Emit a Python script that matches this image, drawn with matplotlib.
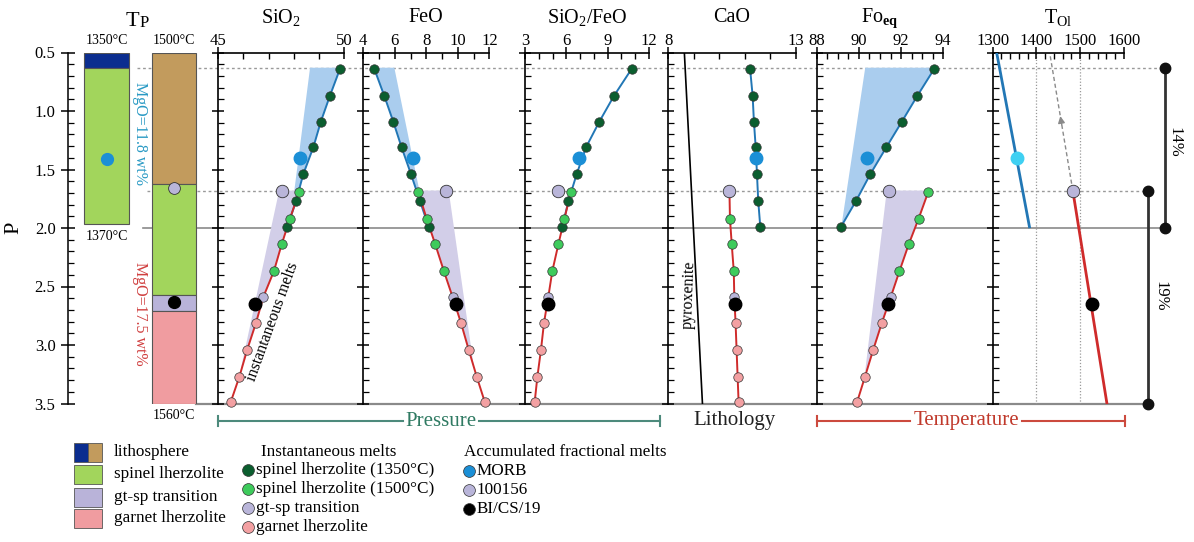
import matplotlib
matplotlib.use("Agg")
import matplotlib.pyplot as plt
import numpy as np
from matplotlib.ticker import MultipleLocator, FixedLocator
from matplotlib.patches import Rectangle

plt.rcParams['font.family'] = ['Liberation Serif', 'DejaVu Serif']
plt.rcParams['mathtext.fontset'] = 'custom'
plt.rcParams['mathtext.rm'] = 'Liberation Serif'
plt.rcParams['mathtext.it'] = 'Liberation Serif:italic'
plt.rcParams['mathtext.bf'] = 'Liberation Serif:bold'

W, H = 1194, 542
TOP, BOT = 52.5, 403.5          # pixel rows of P = 0.5 and P = 3.5
PMIN, PMAX = 0.5, 3.5

# ------------------------------------------------------------------ data
P_sp1350 = [0.64, 0.87, 1.09, 1.31, 1.54, 1.77, 1.99]
P_sp1500 = [1.69, 1.92, 2.14, 2.37]
P_gtsp = [2.59]
P_gt = [2.81, 3.04, 3.27, 3.49]
P_acc = [1.40, 1.68, 2.65]       # MORB, 100156, BI/CS/19

sio2_sp1350 = [49.84, 49.44, 49.08, 48.78, 48.38, 48.09, 47.75]
sio2_sp1500 = [48.22, 47.85, 47.52, 47.21]
sio2_gtsp = [46.79]
sio2_gt = [46.50, 46.15, 45.84, 45.49]
sio2_acc = [48.25, 47.52, 46.46]

feo_sp1350 = [4.70, 5.33, 5.90, 6.43, 7.03, 7.60, 8.15]
feo_sp1500 = [7.49, 8.02, 8.57, 9.12]
feo_gtsp = [9.67]
feo_gt = [10.20, 10.69, 11.20, 11.72]
feo_acc = [7.17, 9.23, 9.88]

ratio_sp1350 = [10.74, 9.46, 8.40, 7.43, 6.75, 6.15, 5.71]
ratio_sp1500 = [6.34, 5.86, 5.42, 4.98]
ratio_gtsp = [4.69]
ratio_gt = [4.38, 4.16, 3.90, 3.70]
ratio_acc = [6.92, 5.40, 4.65]

cao_sp1350 = [11.21, 11.31, 11.36, 11.43, 11.48, 11.53, 11.61]
cao_sp1500 = [10.40, 10.42, 10.49, 10.57]
cao_gtsp = [10.59]
cao_gt = [10.64, 10.68, 10.72, 10.76]
cao_acc = [11.43, 10.40, 10.62]
pyrox_P = [0.5, 3.5]
pyrox_cao = [8.63, 9.34]

fo_sp1350 = [93.57, 92.77, 92.04, 91.30, 90.54, 89.86, 89.15]
fo_sp1500 = [93.29, 92.83, 92.36, 91.92]
fo_gtsp = [91.51]
fo_gt = [91.09, 90.68, 90.29, 89.91]
fo_acc = [90.38, 91.44, 91.39]

tol_blue_P = [0.5, 1.99]
tol_blue = [1309, 1384]
tol_red_P = [1.68, 3.5]
tol_red = [1483, 1561]
tol_acc = [1356, 1483, 1528]
tol_arrow_P = [1.68, 0.52]
tol_arrow = [1483, 1431]

# envelopes of the accumulated-melt fields
blue_env_P = [0.63, 1.72]
lav_env_P = [1.68, 3.20]
sio2_blue_env = [48.65, 48.00]
sio2_lav_env = [47.42, 45.90]
feo_blue_env = [5.97, 7.62]
feo_lav_env_P = [1.68, 3.17]
feo_lav_env = [9.42, 11.00]
fo_blue_env_P = [0.63, 1.95]
fo_blue_env = [90.30, 89.20]
fo_lav_env_P = [1.68, 3.22]
fo_lav_env = [91.32, 90.30]

# lithology columns (Tp)
col1_top = [0.50, 0.63]
col1_bot = [0.63, 1.97]
col2_top = [0.50, 1.62, 2.57, 2.71]
col2_bot = [1.62, 2.57, 2.71, 3.50]
col1_P_dot = 1.41
col2_P_dots = [1.66, 2.63]

P_lith1350 = 0.63
P_lith1500 = 1.68
P_solidus = 2.0
bar14_P = [0.63, 2.0]
bar19_P = [1.68, 3.5]

# ------------------------------------------------------------------ colours
C_DG = '#0b5e2f'
C_LG = '#3ecb5c'
C_LAV = '#b9b5d9'
C_PINK = '#f3a0a2'
C_MORB = '#1b8fd6'
C_BLK = '#000000'
C_BLINE = '#2277b5'
C_RLINE = '#cf2b2b'
C_BSH = '#aacdee'
C_LSH = '#d2cee8'
C_LITHB = '#0b2d8f'
C_TAN = '#c29b5d'
C_SPG = '#a2d55c'
C_GTS = '#b9b3d9'
C_GTP = '#f09ca0'
EDGE = '#333333'

fig = plt.figure(figsize=(W / 100, H / 100), dpi=100)


def rect(x0, x1):
    return [x0 / W, 1 - BOT / H, (x1 - x0) / W, (BOT - TOP) / H]


# ------------------------------------------------------------------ background reference lines
ov = fig.add_axes([0, 1 - BOT / H, 1, (BOT - TOP) / H])
ov.set_xlim(0, W)
ov.set_ylim(PMAX, PMIN)
ov.axis('off')
ov.plot([137, 1165], [P_lith1350] * 2, color='#9a9a9a', lw=1, ls=(0, (2, 2)), clip_on=False)
ov.plot([147, 1148], [P_lith1500] * 2, color='#9a9a9a', lw=1, ls=(0, (2, 2)), clip_on=False)
ov.plot([143, 1165], [P_solidus] * 2, color='#8a8a8a', lw=1.2, clip_on=False)
ov.plot([196, 1148], [PMAX] * 2, color='#8a8a8a', lw=1.6, clip_on=False)
# melting bars
ov.plot([1165, 1165], bar14_P, color='#333333', lw=2, marker='o', ms=7.5, mfc='#111', mec='#111', clip_on=False)
ov.plot([1148, 1148], bar19_P, color='#333333', lw=2, marker='o', ms=7.5, mfc='#111', mec='#111', clip_on=False)
ov.text(1174, 1.27, '14%', rotation=-90, ha='center', va='center', fontsize=12)
ov.text(1160, 2.58, '19%', rotation=-90, ha='center', va='center', fontsize=12)

# ------------------------------------------------------------------ Tp columns
tp = fig.add_axes(rect(68, 215))
tp.set_xlim(68, 215)
tp.set_ylim(PMAX, PMIN)
tp.patch.set_alpha(0)
for s in ['right', 'top', 'bottom']:
    tp.spines[s].set_visible(False)
tp.spines['left'].set_linewidth(1.1)
tp.set_xticks([])
tp.yaxis.set_major_locator(MultipleLocator(0.5))
tp.yaxis.set_minor_locator(MultipleLocator(0.1))
tp.yaxis.set_major_formatter(matplotlib.ticker.FormatStrFormatter('%.1f'))
tp.tick_params(axis='y', which='major', direction='inout', length=10, width=1.1, labelsize=12, pad=4)
tp.tick_params(axis='y', which='minor', direction='in', length=4, width=0.9)
tp.set_ylabel('P', fontsize=16, labelpad=8)

tp.bar(106.5, np.subtract(col1_bot, col1_top), bottom=col1_top, width=45,
       color=[C_LITHB, C_SPG], edgecolor='#555555', lw=0.8, zorder=2)
tp.bar(174, np.subtract(col2_bot, col2_top), bottom=col2_top, width=44,
       color=[C_TAN, C_SPG, C_GTS, C_GTP], edgecolor='#555555', lw=0.8, zorder=2)
tp.plot([107], [col1_P_dot], 'o', ms=8.5, mfc=C_MORB, mec=C_MORB, zorder=4)
tp.plot([174], [col2_P_dots[0]], 'o', ms=8.5, mfc=C_LAV, mec=EDGE, mew=0.6, zorder=4)
tp.plot([174], [col2_P_dots[1]], 'o', ms=8.5, mfc=C_BLK, mec=C_BLK, zorder=4)
tp.text(106.5, 0.45, '1350°C', ha='center', va='bottom', fontsize=10)
tp.text(106.5, 2.02, '1370°C', ha='center', va='top', fontsize=10)
tp.text(174, 0.45, '1500°C', ha='center', va='bottom', fontsize=10)
tp.text(174, 3.55, '1560°C', ha='center', va='top', fontsize=10)
tp.text(140, 1.19, 'MgO=11.8 wt%', rotation=-90, ha='center', va='center', fontsize=11.5, color='#2a9ac4')
tp.text(140, 2.73, 'MgO=17.5 wt%', rotation=-90, ha='center', va='center', fontsize=11.5, color='#d04040')
fig.text(139 / W, 1 - 22 / H, 'T', ha='right', va='center', fontsize=16)
fig.text(139.5 / W, 1 - 23 / H, 'P', ha='left', va='center', fontsize=12)


# ------------------------------------------------------------------ panels
def make_panel(x0, x1, xlim, majors, minor, title):
    ax = fig.add_axes(rect(x0, x1))
    ax.set_xlim(*xlim)
    ax.set_ylim(PMAX, PMIN)
    ax.patch.set_alpha(0)
    for s in ['right', 'bottom']:
        ax.spines[s].set_visible(False)
    ax.spines['left'].set_linewidth(1.2)
    ax.spines['top'].set_linewidth(1.2)
    ax.xaxis.tick_top()
    ax.xaxis.set_major_locator(FixedLocator(majors))
    ax.xaxis.set_minor_locator(MultipleLocator(minor))
    ax.yaxis.set_major_locator(MultipleLocator(0.5))
    ax.yaxis.set_minor_locator(MultipleLocator(0.1))
    ax.tick_params(axis='x', which='major', direction='inout', length=8, width=1.1,
                   labelsize=12, pad=-1.5, top=True, bottom=False)
    ax.tick_params(axis='x', which='minor', direction='in', length=4, width=1, top=True, bottom=False)
    ax.tick_params(axis='y', which='major', direction='inout', length=9, width=1.1, labelleft=False)
    ax.tick_params(axis='y', which='minor', direction='in', length=4, width=0.9)
    fig.text((x0 + x1) / 2 / W, 1 - 18 / H, title, ha='center', va='center', fontsize=14.5)
    return ax


def shade(ax, line_v, line_P, env_v, env_P, color):
    line_v = np.asarray(line_v, float)
    line_P = np.asarray(line_P, float)
    p0, p1 = env_P[0], env_P[-1]
    inner = (line_P > p0) & (line_P < p1)
    xs = list(env_v) + [np.interp(p1, line_P, line_v)] + list(line_v[inner][::-1]) + [np.interp(p0, line_P, line_v)]
    ys = list(env_P) + [p1] + list(line_P[inner][::-1]) + [p0]
    ax.fill(xs, ys, color=color, lw=0, zorder=1)


def acc(ax, vacc, morb=C_MORB):
    kb = dict(ls='none', marker='o', ms=9, zorder=5, clip_on=False)
    ax.plot([vacc[0]], [P_acc[0]], mfc=morb, mec=morb, **kb)
    ax.plot([vacc[1]], [P_acc[1]], mfc=C_LAV, mec=EDGE, mew=0.6, **kb)
    ax.plot([vacc[2]], [P_acc[2]], mfc=C_BLK, mec=C_BLK, **kb)


def series(ax, v1350, v1500, vgtsp, vgt, vacc):
    ax.plot(v1350, P_sp1350, color=C_BLINE, lw=1.4, zorder=3)
    ax.plot(v1500 + vgtsp + vgt, P_sp1500 + P_gtsp + P_gt, color=C_RLINE, lw=1.4, zorder=3)
    kw = dict(ls='none', marker='o', ms=6.8, mec=EDGE, mew=0.5, zorder=4, clip_on=False)
    ax.plot(v1350, P_sp1350, mfc=C_DG, **kw)
    ax.plot(v1500, P_sp1500, mfc=C_LG, **kw)
    ax.plot(vgtsp, P_gtsp, mfc=C_LAV, **kw)
    ax.plot(vgt, P_gt, mfc=C_PINK, **kw)
    acc(ax, vacc)


red_P = P_sp1500 + P_gtsp + P_gt

a1 = make_panel(218.3, 344.0, (45, 50), [45, 50], 1, r'SiO$_\mathregular{2}$')
shade(a1, sio2_sp1350, P_sp1350, sio2_blue_env, blue_env_P, C_BSH)
shade(a1, sio2_sp1500 + sio2_gtsp + sio2_gt, red_P, sio2_lav_env, lav_env_P, C_LSH)
series(a1, sio2_sp1350, sio2_sp1500, sio2_gtsp, sio2_gt, sio2_acc)
a1.text(47.15, 2.80, 'instantaneous melts', rotation=70, ha='center', va='center', fontsize=11.5)

a2 = make_panel(363.3, 489.3, (4, 12), [4, 6, 8, 10, 12], 1, 'FeO')
shade(a2, feo_sp1350, P_sp1350, feo_blue_env, blue_env_P, C_BSH)
shade(a2, feo_sp1500 + feo_gtsp + feo_gt, red_P, feo_lav_env, feo_lav_env_P, C_LSH)
series(a2, feo_sp1350, feo_sp1500, feo_gtsp, feo_gt, feo_acc)

a3 = make_panel(525.0, 649.0, (3, 12), [3, 6, 9, 12], 1, r'SiO$_\mathregular{2}$/FeO')
series(a3, ratio_sp1350, ratio_sp1500, ratio_gtsp, ratio_gt, ratio_acc)

a4 = make_panel(668.3, 795.7, (8, 13), [8, 13], 1, 'CaO')
a4.plot(pyrox_cao, pyrox_P, color='black', lw=1.2, zorder=2)
series(a4, cao_sp1350, cao_sp1500, cao_gtsp, cao_gt, cao_acc)
a4.text(8.80, 2.57, 'pyroxenite', rotation=88, ha='center', va='center', fontsize=11.5)

a5 = make_panel(816.7, 943.3, (88, 94), [88, 90, 92, 94], 0.5, r'Fo$_\mathbf{eq}$')
shade(a5, fo_sp1350, P_sp1350, fo_blue_env, fo_blue_env_P, C_BSH)
shade(a5, fo_sp1500 + fo_gtsp + fo_gt, red_P, fo_lav_env, fo_lav_env_P, C_LSH)
series(a5, fo_sp1350, fo_sp1500, fo_gtsp, fo_gt, fo_acc)

a6 = make_panel(992.7, 1124.0, (1300, 1600), [1300, 1400, 1500, 1600], 20, r'T$_\mathregular{Ol}$')
for t in [1400, 1500]:
    a6.plot([t, t], [PMIN, PMAX], color='#9a9a9a', lw=0.9, ls=(0, (1, 1.5)), zorder=1)
a6.plot(tol_blue, tol_blue_P, color=C_BLINE, lw=2, zorder=3)
a6.plot(tol_red, tol_red_P, color=C_RLINE, lw=2, zorder=3)
a6.plot(tol_arrow, tol_arrow_P, color='#8a8a8a', lw=1, ls=(0, (3, 2)), zorder=2)
a6.annotate('', xy=(np.interp(1.02, tol_arrow_P[::-1], tol_arrow[::-1]), 1.02),
            xytext=(np.interp(1.14, tol_arrow_P[::-1], tol_arrow[::-1]), 1.14),
            arrowprops=dict(arrowstyle='-|>', color='#8a8a8a', lw=1, mutation_scale=10))
acc(a6, tol_acc, morb='#3fd0f2')

# ------------------------------------------------------------------ bottom labels and legend
lg = fig.add_axes([0, 0, 1, 1])
lg.set_xlim(0, W)
lg.set_ylim(H, 0)
lg.axis('off')

yb = 421
C_PR = '#2f7a62'
C_PRL = '#4d8a7c'
lg.plot([218, 403], [yb, yb], color=C_PRL, lw=1.5)
lg.plot([479, 660], [yb, yb], color=C_PRL, lw=1.5)
lg.plot([218, 218], [yb - 5, yb + 5], color=C_PRL, lw=1.5)
lg.plot([660, 660], [yb - 5, yb + 5], color=C_PRL, lw=1.5)
lg.text(441, yb, 'Pressure', ha='center', va='center', fontsize=15, color=C_PR)
lg.text(735, yb, 'Lithology', ha='center', va='center', fontsize=15, color='#222222')
C_TE = '#c0392b'
lg.plot([817, 910], [yb, yb], color='#cc4a3e', lw=1.5)
lg.plot([1022, 1125], [yb, yb], color='#cc4a3e', lw=1.5)
lg.plot([817, 817], [yb - 5, yb + 5], color='#cc4a3e', lw=1.5)
lg.plot([1125, 1125], [yb - 5, yb + 5], color='#cc4a3e', lw=1.5)
lg.text(966, yb, 'Temperature', ha='center', va='center', fontsize=15, color=C_TE)

LFS = 12.3
# lithology boxes
box_y = [452, 474, 497, 518]
box_lab = ['lithosphere', 'spinel lherzolite', 'gt-sp transition', 'garnet lherzolite']
box_col = [C_SPG, C_SPG, C_GTS, C_GTP]
for i, (yy, lab, c) in enumerate(zip(box_y, box_lab, box_col)):
    if i == 0:
        lg.add_patch(Rectangle((74, yy - 9.5), 14, 19, facecolor=C_LITHB, edgecolor='#555', lw=0.6))
        lg.add_patch(Rectangle((88, yy - 9.5), 14, 19, facecolor=C_TAN, edgecolor='#555', lw=0.6))
    else:
        lg.add_patch(Rectangle((74, yy - 9.5), 28, 19, facecolor=c, edgecolor='#555', lw=0.6))
    lg.text(114, yy, lab, ha='left', va='center', fontsize=LFS)

lg.text(261, 452, 'Instantaneous melts', ha='left', va='center', fontsize=LFS)
inst_y = [470, 489, 508, 527]
inst_lab = ['spinel lherzolite (1350°C)', 'spinel lherzolite (1500°C)', 'gt-sp transition', 'garnet lherzolite']
inst_col = [C_DG, C_LG, C_LAV, C_PINK]
for yy, lab, c in zip(inst_y, inst_lab, inst_col):
    lg.plot([248], [yy], 'o', ms=8.5, mfc=c, mec=EDGE, mew=0.5)
    lg.text(256, yy, lab, ha='left', va='center', fontsize=LFS)

lg.text(464, 452, 'Accumulated fractional melts', ha='left', va='center', fontsize=LFS)
acc_y = [471, 490, 509]
acc_lab = ['MORB', '100156', 'BI/CS/19']
acc_col = [C_MORB, C_LAV, C_BLK]
for yy, lab, c in zip(acc_y, acc_lab, acc_col):
    lg.plot([469], [yy], 'o', ms=8.5, mfc=c, mec=EDGE, mew=0.5)
    lg.text(477, yy, lab, ha='left', va='center', fontsize=LFS)

fig.savefig('out.png', dpi=100)
